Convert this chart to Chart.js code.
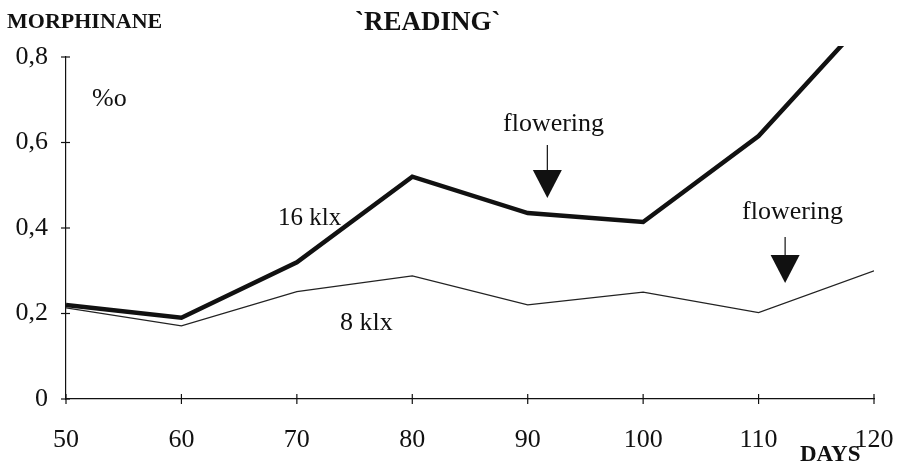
<!DOCTYPE html>
<html>
<head>
<meta charset="utf-8">
<script src="https://cdn.jsdelivr.net/npm/chart.js@4"></script>
<style>
  html, body { margin: 0; padding: 0; background: #fff; }
  #wrap { width: 903px; height: 466px; }
</style>
</head>
<body>
<div id="wrap"><canvas id="chart" width="903" height="466"></canvas></div>
<script>
// data
const days = [50, 60, 70, 80, 90, 100, 110, 120];
const klx16 = [0.22, 0.19, 0.32, 0.52, 0.435, 0.414, 0.615, 0.91];
const klx8 = [0.213, 0.171, 0.251, 0.288, 0.22, 0.25, 0.202, 0.30];
const yTicks = [0, 0.2, 0.4, 0.6, 0.8];
const flowering = [91.7, 112.3];

const serif = "'Liberation Serif', 'DejaVu Serif', serif";

function toPoints(vals) {
    return days.map((d, i) => ({ x: d, y: vals[i] }));
}

// texts and flowering arrows, placed in data units
const notes = {
    id: 'notes',
    afterDraw(chart) {
        const c = chart.ctx;
        const xs = chart.scales.x, ys = chart.scales.y;
        c.save();
        c.fillStyle = '#111';
        c.strokeStyle = '#111';
        c.textBaseline = 'alphabetic';

        c.textAlign = 'left';
        c.font = 'bold 22px ' + serif;
        c.fillText('MORPHINANE', 7, 28);
        c.font = 'bold 27px ' + serif;
        c.fillText('`READING`', 355, 30);

        c.font = '26px ' + serif;
        c.fillText('%o', 92, 106);
        c.fillText('flowering', 503, 131);
        c.fillText('flowering', 742, 219);
        c.font = '25px ' + serif;
        c.fillText('16 klx', 278, 225);
        c.font = '26px ' + serif;
        c.fillText('8 klx', 340, 330);

        c.font = 'bold 23px ' + serif;
        c.fillText('DAYS', 800, 461);

        // arrows
        const arrows = [[flowering[0], 145, 170, 198], [flowering[1], 237, 255, 283]];
        arrows.forEach(a => {
            const px = xs.getPixelForValue(a[0]);
            c.lineWidth = 1.2;
            c.beginPath();
            c.moveTo(px, a[1]);
            c.lineTo(px, a[2]);
            c.stroke();
            c.beginPath();
            c.moveTo(px - 14.5, a[2]);
            c.lineTo(px + 14.5, a[2]);
            c.lineTo(px, a[3]);
            c.closePath();
            c.fill();
        });

        // tick marks crossing the axes
        c.lineWidth = 1.2;
        yTicks.forEach(v => {
            const py = ys.getPixelForValue(v);
            c.beginPath();
            c.moveTo(chart.chartArea.left - 5, py);
            c.lineTo(chart.chartArea.left + 4, py);
            c.stroke();
        });
        days.forEach(d => {
            const px = xs.getPixelForValue(d);
            c.beginPath();
            c.moveTo(px, chart.chartArea.bottom - 5);
            c.lineTo(px, chart.chartArea.bottom + 5);
            c.stroke();
        });
        c.restore();
    }
};

new Chart(document.getElementById('chart'), {
    type: 'line',
    data: {
        datasets: [
            {
                label: '16 klx',
                data: toPoints(klx16),
                borderColor: '#111',
                borderWidth: 4.5,
                pointRadius: 0,
                tension: 0,
                clip: { left: 5, top: 11, right: 5, bottom: 5 }
            },
            {
                label: '8 klx',
                data: toPoints(klx8),
                borderColor: '#222',
                borderWidth: 1.2,
                pointRadius: 0,
                tension: 0
            }
        ]
    },
    options: {
        responsive: false,
        animation: false,
        layout: { padding: { left: 0, top: 57, right: 0, bottom: 0 } },
        plugins: {
            legend: { display: false },
            tooltip: { enabled: false }
        },
        scales: {
            x: {
                type: 'linear',
                min: 50,
                max: 120,
                afterFit: s => { s.height = 67; s.paddingLeft = 0; s.paddingRight = 29; },
                afterBuildTicks: s => { s.ticks = days.map(v => ({ value: v })); },
                border: { display: true, color: '#111', width: 1.2 },
                grid: { display: false },
                ticks: {
                    color: '#111',
                    font: { family: serif, size: 26 },
                    padding: 18,
                    maxRotation: 0
                }
            },
            y: {
                min: 0,
                max: 0.8,
                afterFit: s => { s.width = 66; s.paddingTop = 0; s.paddingBottom = 0; },
                afterBuildTicks: s => { s.ticks = yTicks.map(v => ({ value: v })); },
                border: { display: true, color: '#111', width: 1.2 },
                grid: { display: false },
                ticks: {
                    color: '#111',
                    font: { family: serif, size: 26 },
                    padding: 10,
                    callback: v => String(v).replace('.', ',')
                }
            }
        }
    },
    plugins: [notes]
});
</script>
</body>
</html>
